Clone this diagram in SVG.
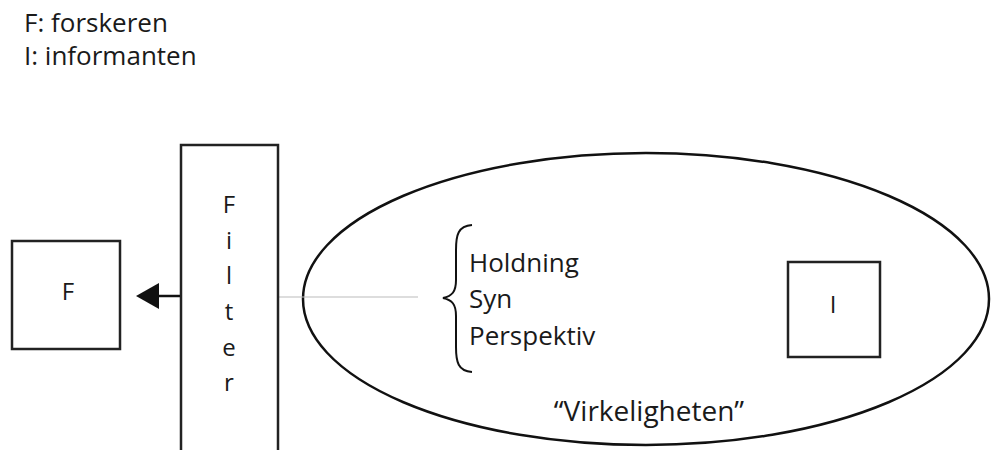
<svg xmlns="http://www.w3.org/2000/svg" width="991" height="450" viewBox="0 0 991 450">
<style>
.t{font-family:"Open Sans","Noto Sans",sans-serif;fill:#1a1a1a;font-size:26px}
.s{font-size:24px}
.box{fill:#fff;stroke:#222;stroke-width:2.5}
</style>
<rect width="991" height="450" fill="#fff"/>
<g id="legend">
<text class="t" x="24" y="32">F: forskeren</text>
<text class="t" x="24" y="65">I: informanten</text>
</g>
<g id="virkeligheten">
<ellipse cx="646" cy="299" rx="343" ry="146" fill="none" stroke="#111" stroke-width="2.5"/>
<text class="t" x="649" y="421" text-anchor="middle" style="font-size:28px">“Virkeligheten”</text>
</g>
<g id="connectors">
<line x1="278" y1="297" x2="418" y2="297" stroke="#bbb" stroke-width="1.2"/>
<line x1="181" y1="296" x2="158" y2="296" stroke="#111" stroke-width="2.5"/>
<path d="M159,283 L136,296 L159,309 Z" fill="#111"/>
</g>
<g id="F">
<rect class="box" x="12" y="241" width="108" height="108"/>
<text class="t s" x="68" y="300" text-anchor="middle">F</text>
</g>
<g id="filter">
<rect class="box" x="181" y="145" width="97" height="310"/>
<text class="t s" x="229" y="213" text-anchor="middle">F</text>
<text class="t s" x="229" y="249" text-anchor="middle">i</text>
<text class="t s" x="229" y="284" text-anchor="middle">l</text>
<text class="t s" x="229" y="320" text-anchor="middle">t</text>
<text class="t s" x="229" y="356" text-anchor="middle">e</text>
<text class="t s" x="229" y="391" text-anchor="middle">r</text>
</g>
<g id="brace">
<path d="M472,225 C458,226 456,235 456,250 L456,280 C456,292 452,296 443,298 C452,300 456,304 456,316 L456,347 C456,362 458,371 472,372" fill="none" stroke="#111" stroke-width="2"/>
<text class="t" x="469" y="272">Holdning</text>
<text class="t" x="469" y="308">Syn</text>
<text class="t" x="469" y="345">Perspektiv</text>
</g>
<g id="I">
<rect class="box" x="788" y="262" width="92" height="95"/>
<text class="t s" x="833" y="313" text-anchor="middle">I</text>
</g>
</svg>
